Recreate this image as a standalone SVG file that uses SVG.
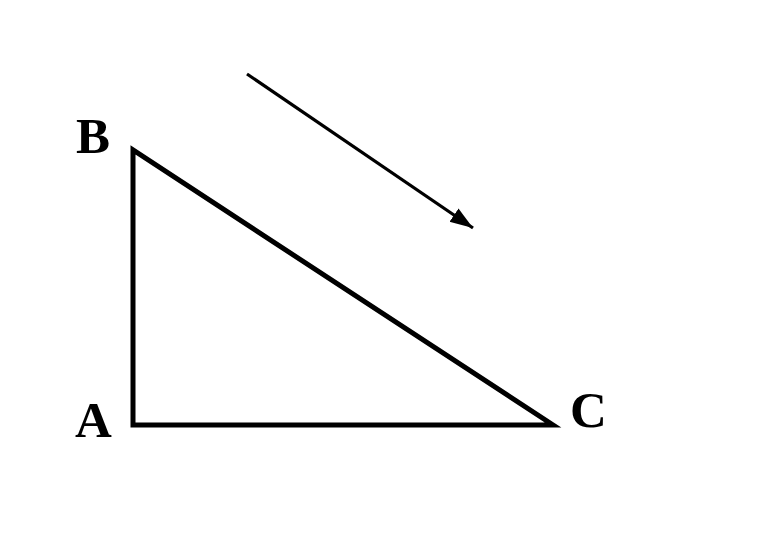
<svg xmlns="http://www.w3.org/2000/svg" width="764" height="542" viewBox="0 0 764 542">
<style>
text{font-family:'Liberation Serif','Times New Roman',Times,serif;font-weight:700;font-size:51px;fill:#000}
</style>
<defs>
<marker id="ah" markerUnits="userSpaceOnUse" markerWidth="24" markerHeight="18" refX="23" refY="8" orient="auto">
<path d="M0,0 L23,8 L0,16 Z" fill="#000"/>
</marker>
</defs>
<rect width="764" height="542" fill="#fff"/>
<g id="triangle">
<path d="M133,150 L133,425 L553,425 Z" fill="none" stroke="#000" stroke-width="5" stroke-linejoin="miter" stroke-miterlimit="10"/>
</g>
<g id="connectors">
<line x1="247" y1="74" x2="473" y2="228" stroke="#000" stroke-width="3.2" marker-end="url(#ah)"/>
</g>
<g id="labels">
<text x="76" y="153">B</text>
<text x="75" y="437">A</text>
<text x="570" y="427">C</text>
</g>
</svg>
